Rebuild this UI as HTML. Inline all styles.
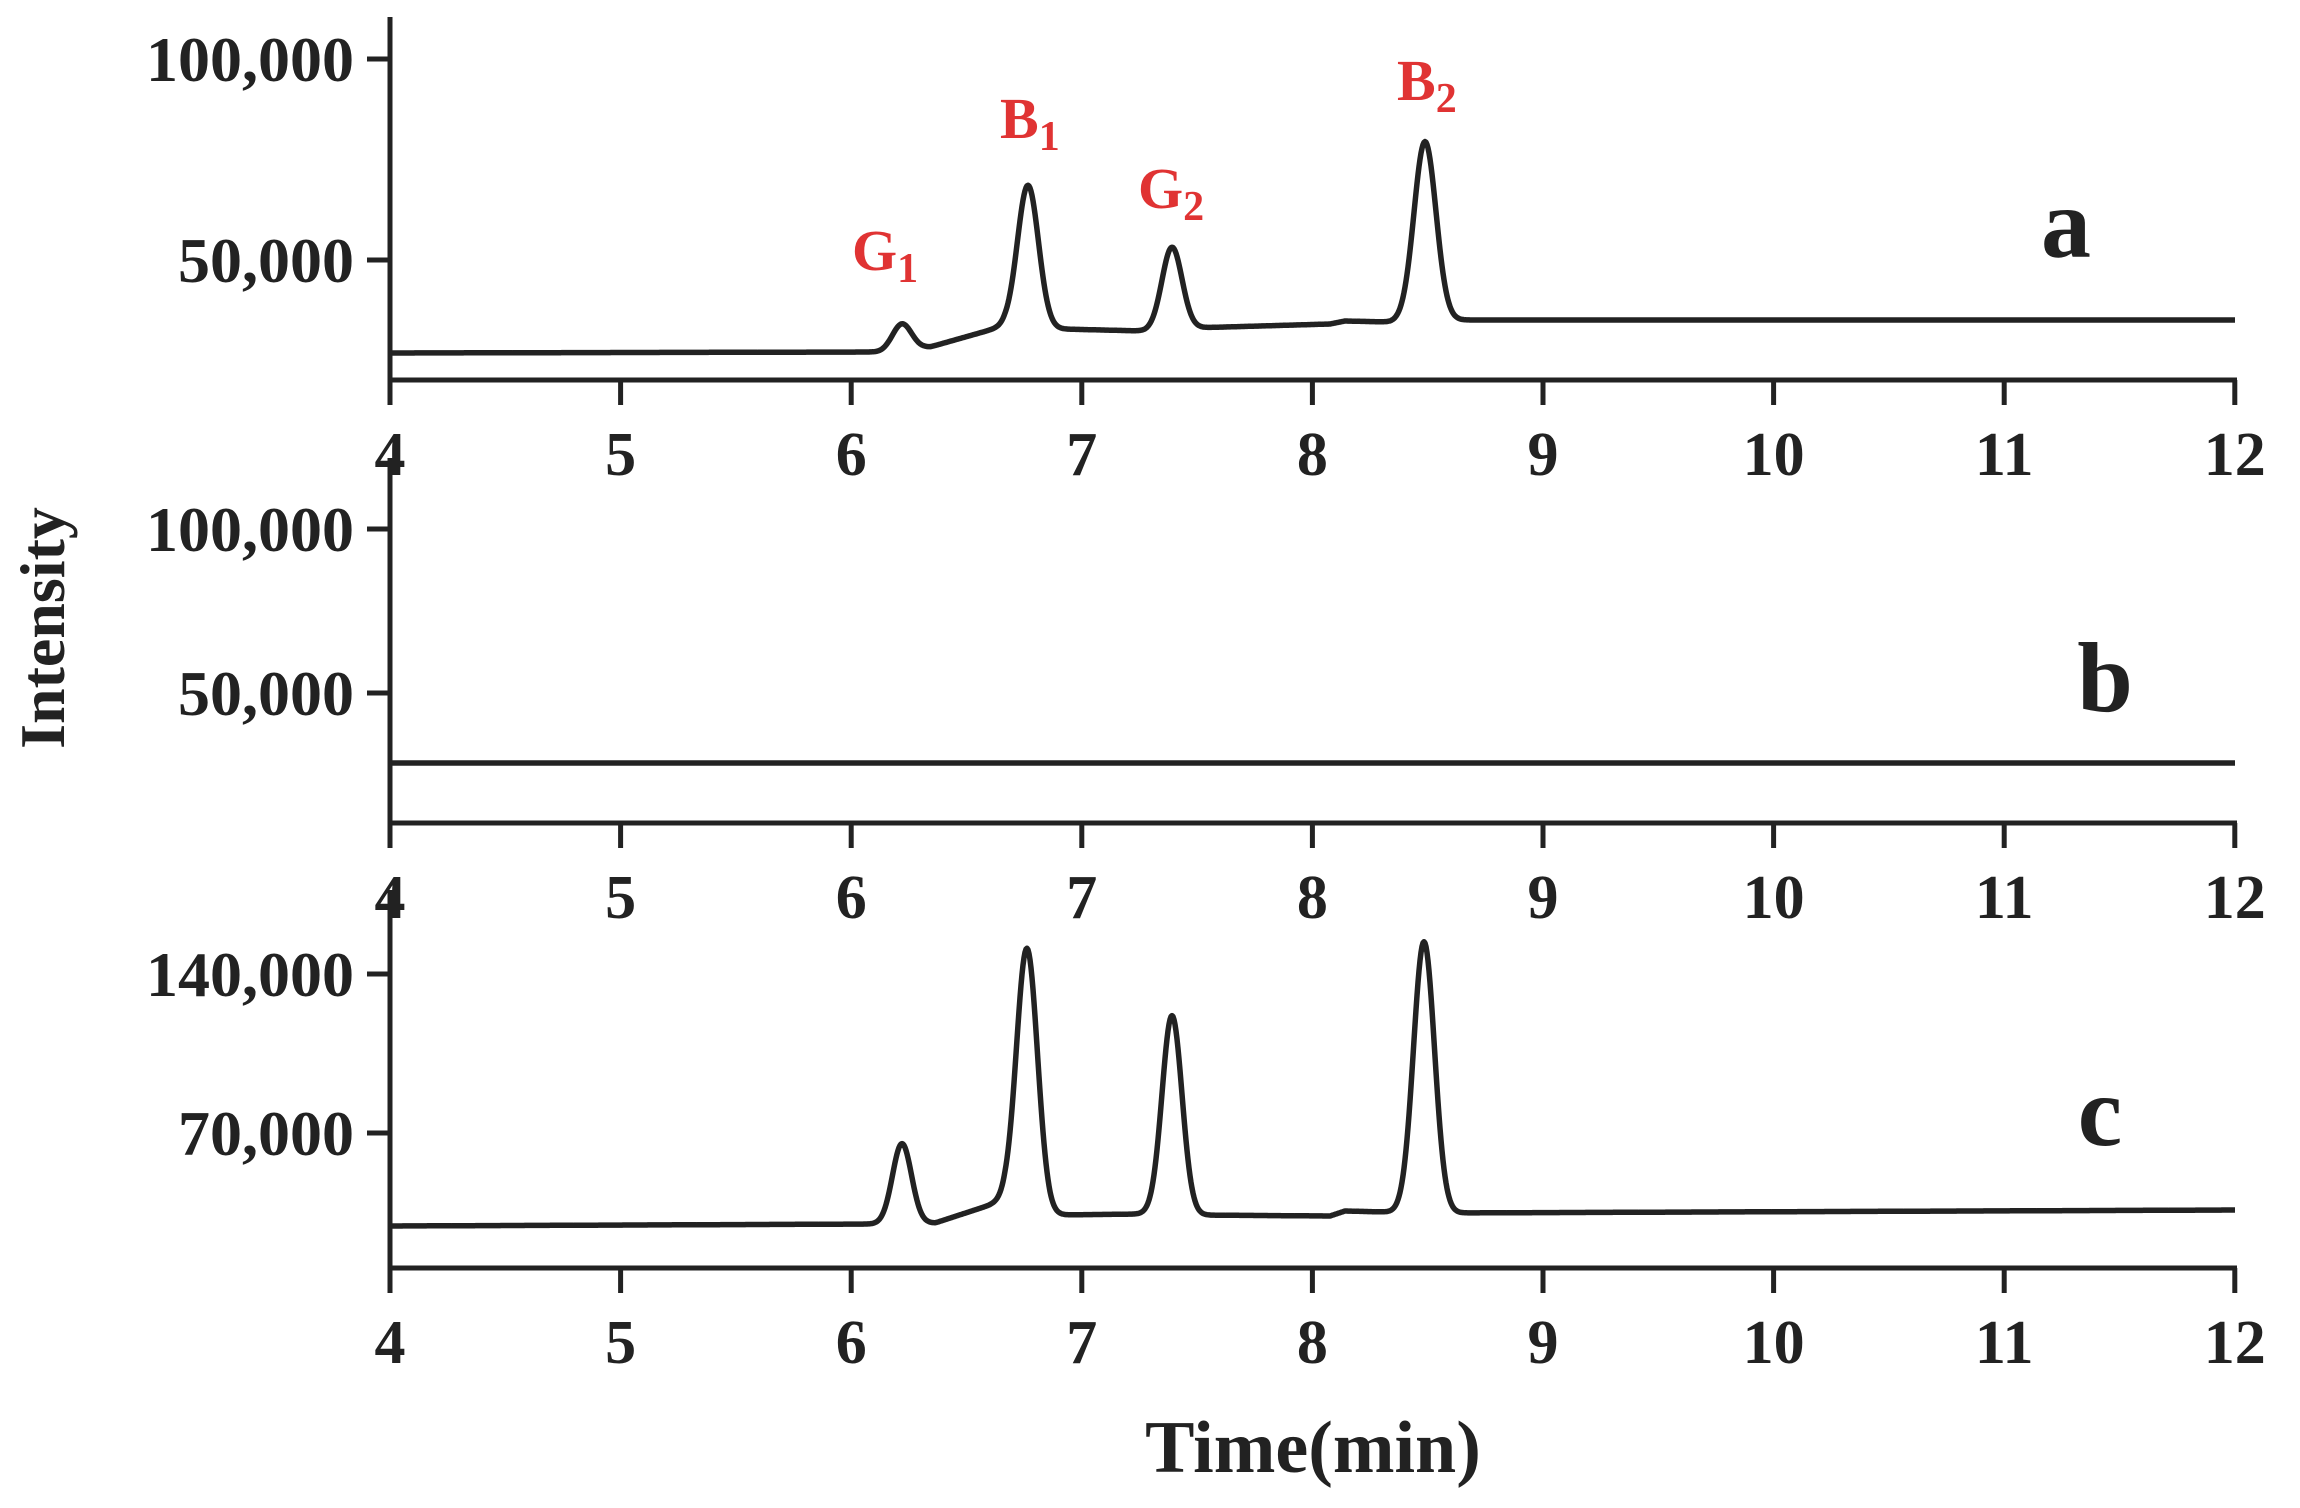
<!DOCTYPE html>
<html><head><meta charset="utf-8"><style>
html,body{margin:0;padding:0;background:#fff;}
svg{display:block;}
text{font-family:"Liberation Serif",serif;font-weight:bold;fill:#222;}
</style></head><body>
<svg id="s" width="2300" height="1508" viewBox="0 0 2300 1508" xmlns="http://www.w3.org/2000/svg">
<g stroke="#222" stroke-width="5" fill="none">
<line x1="390" y1="17" x2="390" y2="405"/>
<line x1="388" y1="380" x2="2237" y2="380"/>
<line x1="367" y1="59" x2="390" y2="59"/>
<line x1="367" y1="260" x2="390" y2="260"/>
<line x1="390" y1="458" x2="390" y2="848"/>
<line x1="388" y1="823" x2="2237" y2="823"/>
<line x1="367" y1="529" x2="390" y2="529"/>
<line x1="367" y1="693" x2="390" y2="693"/>
<line x1="390" y1="890" x2="390" y2="1293"/>
<line x1="388" y1="1268" x2="2237" y2="1268"/>
<line x1="367" y1="974" x2="390" y2="974"/>
<line x1="367" y1="1133" x2="390" y2="1133"/>
</g>
<g id="ticks" stroke="#222" stroke-width="5"></g>
<g id="series" stroke="#222" stroke-width="5.5" fill="none" stroke-linejoin="round"></g>
<g font-size="64" text-anchor="end">
<text x="354" y="81">100,000</text>
<text x="354" y="282">50,000</text>
<text x="354" y="551">100,000</text>
<text x="354" y="715">50,000</text>
<text x="354" y="996">140,000</text>
<text x="354" y="1155">70,000</text>
</g>
<g id="xl" font-size="62" text-anchor="middle"></g>
<g font-size="100" text-anchor="middle">
<text x="2066" y="257">a</text>
<text x="2105" y="711">b</text>
<text x="2100" y="1145">c</text>
</g>
<g font-size="58">
<text x="852" y="270" style="fill:#e03333">G<tspan font-size="42" dy="12">1</tspan></text>
<text x="1000" y="138" style="fill:#e03333">B<tspan font-size="42" dy="12">1</tspan></text>
<text x="1138" y="208" style="fill:#e03333">G<tspan font-size="42" dy="12">2</tspan></text>
<text x="1397" y="100" style="fill:#e03333">B<tspan font-size="42" dy="12">2</tspan></text>
</g>
<text x="1313" y="1472" font-size="74" text-anchor="middle">Time(min)</text>
<text transform="translate(64,628) rotate(-90)" font-size="64" text-anchor="middle">Intensity</text>
</svg>
<script>
var NS="http://www.w3.org/2000/svg";
var ticks=document.getElementById('ticks'),xl=document.getElementById('xl'),ser=document.getElementById('series');
[380,823,1268].forEach(function(ay){
 for(var i=0;i<=8;i++){
  var x=390+i*230.6;
  var l=document.createElementNS(NS,'line');
  l.setAttribute('x1',x);l.setAttribute('x2',x);l.setAttribute('y1',ay);l.setAttribute('y2',ay+25);
  ticks.appendChild(l);
  var t=document.createElementNS(NS,'text');
  t.setAttribute('x',x);t.setAttribute('y',ay+95);t.textContent=String(4+i);
  xl.appendChild(t);
 }
});
function interp(pts,x){
 for(var i=0;i<pts.length-1;i++){
  if(x>=pts[i][0]&&x<=pts[i+1][0]){var f=(x-pts[i][0])/(pts[i+1][0]-pts[i][0]);return pts[i][1]+f*(pts[i+1][1]-pts[i][1]);}
 }
 return pts[pts.length-1][1];
}
function draw(base,peaks){
 var d='';
 for(var x=390;x<=2235;x+=1){
  var y=interp(base,x);
  peaks.forEach(function(p){y-=p[1]*Math.exp(-Math.pow(x-p[0],2)/(2*p[2]*p[2]));});
  d+=(x==390?'M':'L')+x+' '+y.toFixed(1);
 }
 var p=document.createElementNS(NS,'path');p.setAttribute('d',d);ser.appendChild(p);
}
draw([[390,353],[880,352],[930,347],[990,330],[1005,326],[1060,329],[1145,331],[1190,328],[1330,324],[1345,321],[1390,322],[1440,320],[2235,320]],
 [[902,26,9.5],[1028,142,10.5],[1172,82,10],[1425,179,11]]);
draw([[390,763],[2235,763]],[]);
draw([[390,1226],[880,1224],[935,1223],[990,1205],[1005,1200],[1050,1215],[1145,1214],[1190,1215],[1330,1216],[1345,1211],[1385,1212],[1440,1213],[2235,1210]],
 [[902,80,9.5],[1027,259,10.5],[1172,199,10],[1424,271,10.5]]);
</script>
</body></html>
